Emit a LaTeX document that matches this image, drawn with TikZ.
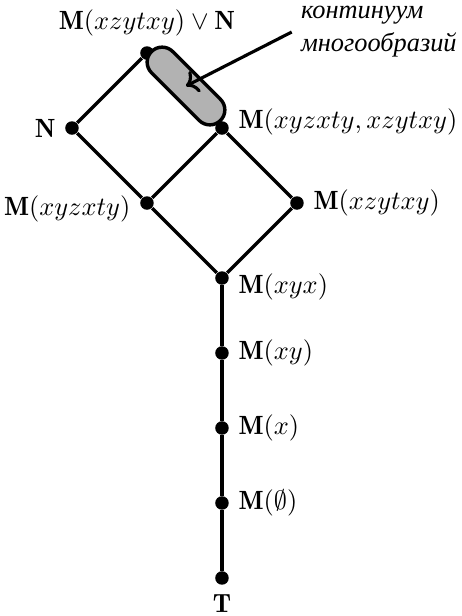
\documentclass[tikz,border=0pt]{standalone}
\usepackage{fontspec}
\newfontfamily\cyrfont{Liberation Serif}
\usepackage{amsmath,amssymb}
\usepackage{tikz}
\usetikzlibrary{arrows.meta,positioning}

\begin{document}
\begin{tikzpicture}[node distance=1cm and 1cm, on grid,
    vert/.style={circle, fill, inner sep=0pt, minimum size=1.8mm},
    edge/.style={line width=1.3pt}]
  \useasboundingbox (-2.96,-0.507) rectangle (3.2,7.707);
  % chain
  \node[vert, label=below:$\mathbf{T}$] (t) at (0,0) {};
  \node[vert, above=of t, label=right:$\mathbf{M}(\emptyset)$] (m0) {};
  \node[vert, above=of m0, label=right:$\mathbf{M}(x)$] (mx) {};
  \node[vert, above=of mx, label=right:$\mathbf{M}(xy)$] (mxy) {};
  \node[vert, above=of mxy, label={[yshift=-1.2mm]right:$\mathbf{M}(xyx)$}] (mxyx) {};
  % lattice
  \node[vert, above left=of mxyx, label={[yshift=-0.8mm]left:$\mathbf{M}(xyzxty)$}] (ma) {};
  \node[vert, above right=of mxyx, label=right:$\mathbf{M}(xzytxy)$] (mb) {};
  \node[vert, above right=of ma, label={[yshift=0.8mm]right:$\mathbf{M}(xyzxty,xzytxy)$}] (mab) {};
  \node[vert, above left=of mab, label=above:$\mathbf{M}(xzytxy)\vee\mathbf{N}$] (mbn) {};
  \node[vert, below left=of mbn, label=left:$\mathbf{N}$] (n) {};
  \draw[edge] (t) -- (m0) -- (mx) -- (mxy) -- (mxyx);
  \draw[edge] (mxyx) -- (ma) -- (mab) -- (mb) -- (mxyx);
  \draw[edge] (ma) -- (n) -- (mbn) -- (mab);
  % continuum
  \node[draw, line width=1.3pt, fill=gray!60, rounded corners=2mm, minimum width=13mm,
    minimum height=4mm, rotate=-45] (kont) at (-0.48,6.56) {};
  \node[anchor=west, align=left, font=\cyrfont\itshape\fontsize{10}{12.5}\selectfont]
    (lbl) at (0.93,7.28) {континуум\\многообразий};
  \draw[line width=1.2pt, ->] (lbl.west) -- (kont.center);
\end{tikzpicture}
\end{document}
